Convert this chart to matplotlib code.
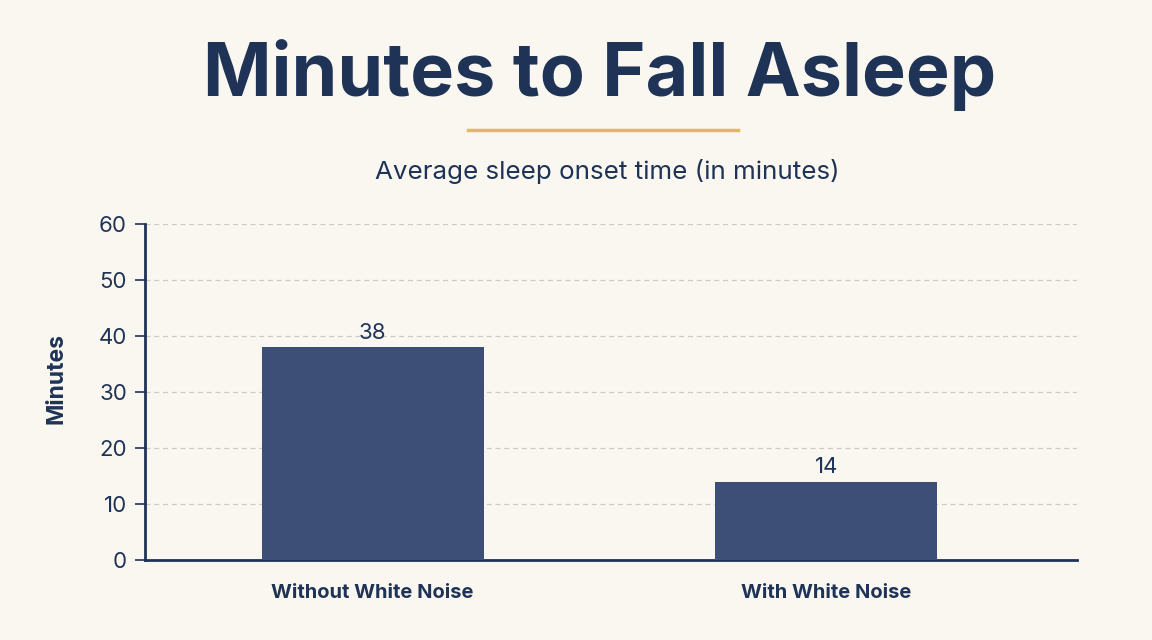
import matplotlib
matplotlib.use("Agg")
import matplotlib.pyplot as plt
from matplotlib.lines import Line2D

categories = ["Without White Noise", "With White Noise"]
minutes = [38, 14]
yticks = [0, 10, 20, 30, 40, 50, 60]

title = "Minutes to Fall Asleep"
subtitle = "Average sleep onset time (in minutes)"
ylabel = "Minutes"

BG = "#faf7f0"
NAVY = "#1e3356"
BAR = "#3d4f76"
GOLD = "#e3b862"
GRID = "#cfcbc4"

plt.rcParams['font.family'] = ['Inter', 'DejaVu Sans']

fig = plt.figure(figsize=(11.52, 6.4), dpi=100, facecolor=BG)
ax = fig.add_axes([145/1152, 1-560/640, (1077-145)/1152, (560-224)/640])
ax.set_facecolor(BG)

x = list(range(len(categories)))
bars = ax.bar(x, minutes, width=0.49, color=BAR, zorder=3)
for xi, v in zip(x, minutes):
    ax.text(xi, v + 0.8, f"{v}", ha="center", va="bottom", fontsize=16, color=NAVY, zorder=4)

ax.set_xlim(-0.502, 1.553)
ax.set_ylim(0, 60)
ax.set_yticks(yticks)
ax.set_yticklabels([str(t) for t in yticks], fontsize=16, color=NAVY)
ax.set_xticks(x)
ax.set_xticklabels(categories, fontsize=14.5, fontweight="bold", color=NAVY)
ax.tick_params(axis="x", length=0, pad=17)
ax.tick_params(axis="y", length=7, width=1.2, color=NAVY, pad=6)
ax.grid(axis="y", color=GRID, linestyle=(0, (4, 3)), linewidth=0.9, zorder=0)
for s in ["top", "right"]:
    ax.spines[s].set_visible(False)
for s in ["left", "bottom"]:
    ax.spines[s].set_color(NAVY)
    ax.spines[s].set_linewidth(2)
ax.set_ylabel(ylabel, fontsize=16.5, fontweight="bold", color=NAVY)
ax.yaxis.set_label_coords((57-145)/(1077-145), (560-378)/(560-224))
ax.yaxis.label.set_va("center")

fig.text(600/1152, 1-75/640, title, ha="center", va="center", fontsize=53, fontweight="bold", color=NAVY)
fig.add_artist(Line2D([468/1152, 738/1152], [1-130/640, 1-130/640], color=GOLD, linewidth=2.5))
fig.text(607/1152, 1-171/640, subtitle, ha="center", va="center", fontsize=18.7, color=NAVY)

fig.savefig("out.png", dpi=100, facecolor=BG)
